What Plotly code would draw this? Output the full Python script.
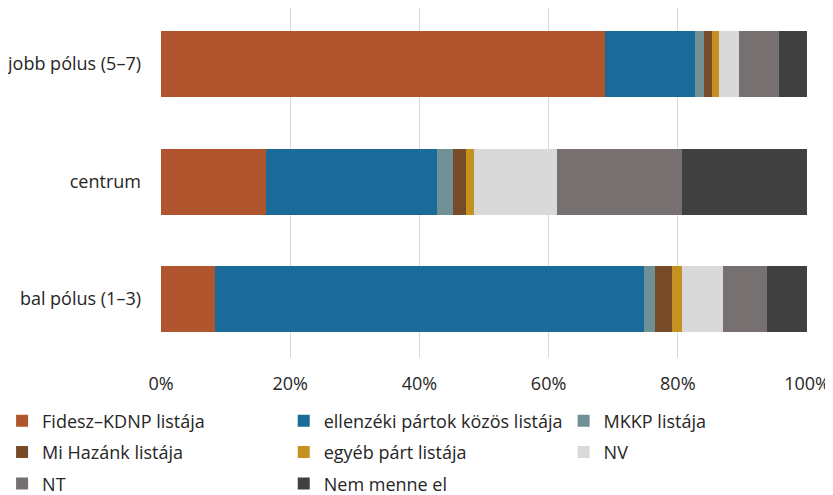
import plotly.graph_objects as go

categories = ['bal pólus (1–3)', 'centrum', 'jobb pólus (5–7)']

series_names = ['Fidesz–KDNP listája', 'ellenzéki pártok közös listája', 'MKKP listája',
                'Mi Hazánk listája', 'egyéb párt listája', 'NV', 'NT', 'Nem menne el']

fidesz = [8.3, 16.2, 68.8]
ellenzeki = [66.5, 26.5, 13.9]
mkkp = [1.6, 2.5, 1.4]
mi_hazank = [2.7, 2.0, 1.2]
egyeb = [1.5, 1.3, 1.1]
nv = [6.4, 12.8, 3.1]
nt = [6.8, 19.3, 6.2]
nem_menne = [6.2, 19.4, 4.3]

series_values = [fidesz, ellenzeki, mkkp, mi_hazank, egyeb, nv, nt, nem_menne]
colors = ['#B0552D', '#1A6B99', '#6F9196', '#774A28', '#C49220', '#D9D9D9', '#767170', '#404040']
# legend is laid out in three columns, one legend box per column
legend_ids = ['legend', 'legend2', 'legend3', 'legend', 'legend2', 'legend3', 'legend', 'legend2']

fig = go.Figure()
for i, (name, vals, col, lg) in enumerate(zip(series_names, series_values, colors, legend_ids)):
    fig.add_trace(go.Bar(y=categories, x=vals, name=name, orientation='h',
                         marker_color=col, marker_line_width=0,
                         legend=lg, legendgroup=f'g{i}'))

legend_style = dict(orientation='v', yref='container', yanchor='top',
                    y=0.19, tracegroupgap=5, bgcolor='rgba(0,0,0,0)',
                    font=dict(family='Open Sans', size=18, color='#262626'))

# page adds an 8px body margin, so everything is placed 8px up/left
fig.update_layout(
    barmode='stack',
    bargap=0.438,
    width=833, height=487,
    margin=dict(l=153, r=34, t=0, b=137, autoexpand=False),
    plot_bgcolor='white', paper_bgcolor='white',
    font=dict(family='Open Sans', size=18, color='#262626'),
    xaxis=dict(range=[0, 100], dtick=20, ticksuffix='%', showgrid=True,
               gridcolor='#D9D9D9', zeroline=False, ticklabelstandoff=13,
               ticklabeloverflow='allow'),
    yaxis=dict(showgrid=False, range=[-0.502, 2.477], ticklabelstandoff=19),
    legend=dict(xref='paper', x=-0.246, xanchor='left', **legend_style),
    legend2=dict(xref='container', x=0.331, xanchor='left', **legend_style),
    legend3=dict(xref='container', x=0.667, xanchor='left', **legend_style),
)

fig.write_html("out.html")
